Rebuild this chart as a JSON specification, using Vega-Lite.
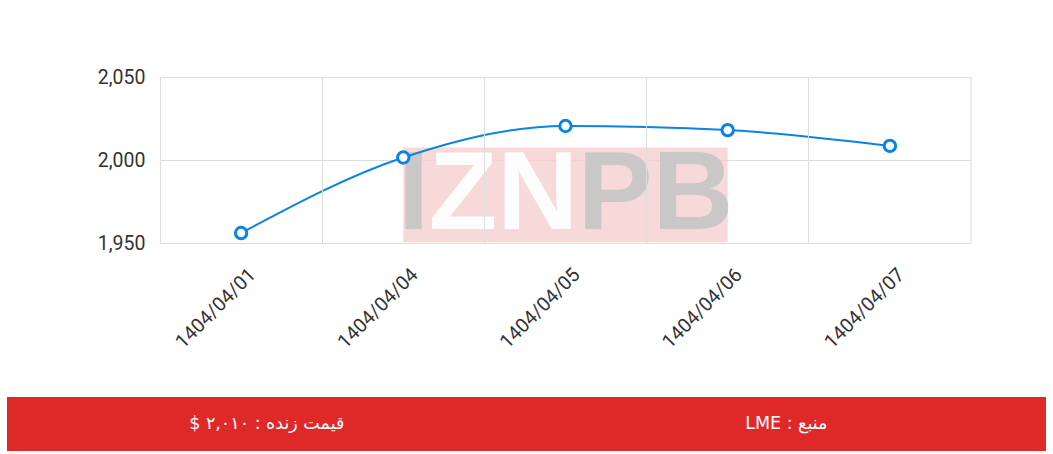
{
  "$schema": "https://vega.github.io/schema/vega-lite/v6.json",
  "background": "#ffffff",
  "padding": {"left": 7, "right": 7, "top": 67, "bottom": 3},
  "spacing": 45,
  "config": {"font": "Roboto"},
  "vconcat": [
    {
      "width": 1039,
      "height": 166,
      "view": {"stroke": null},
      "layer": [
        {
          "data": {"values": [{"date": "1404/04/04", "date2": "1404/04/06", "lo": 1950.5, "hi": 2007.5}]},
          "mark": {"type": "rect", "color": "#f6cfcf", "opacity": 0.8},
          "encoding": {
            "x": {"field": "date", "type": "nominal", "bandPosition": 0.5, "scale": {"type": "band", "paddingInner": 0, "paddingOuter": 0, "range": [153, 964], "domain": ["1404/04/01", "1404/04/04", "1404/04/05", "1404/04/06", "1404/04/07"]}, "axis": {"orient": "bottom", "grid": true, "gridColor": "#dddddd", "bandPosition": 0, "labels": false, "ticks": false, "domain": false, "title": null}},
            "x2": {"field": "date2"},
            "y": {"field": "lo", "type": "quantitative", "scale": {"domain": [1950, 2050], "nice": false, "zero": false}, "axis": {"values": [1950, 2000, 2050], "format": ",.0f", "offset": -153, "labelFontSize": 19.5, "labelColor": "#333333", "labelPadding": 15, "ticks": false, "domain": false, "gridColor": "#dddddd", "title": null}},
            "y2": {"field": "hi"}
          }
        },
        {
          "data": {"values": [{"date": "1404/04/07"}]},
          "mark": {"type": "rule", "color": "#dddddd", "strokeWidth": 1},
          "encoding": {
            "x": {"field": "date", "type": "nominal", "bandPosition": 1, "axis": null},
            "y": {"datum": 1950},
            "y2": {"datum": 2050}
          }
        },
        {
          "data": {"values": [{"date": "1404/04/05", "v": 1979, "a": "I", "b": "ZN", "c": "PB"}]},
          "layer": [
            {
              "mark": {"type": "text", "font": "Liberation Sans", "fontWeight": "bold", "fontSize": 112, "color": "#c6c6c6", "opacity": 0.9, "dx": -152},
              "encoding": {
                "x": {"field": "date", "type": "nominal", "axis": null},
                "y": {"field": "v", "type": "quantitative"},
                "text": {"field": "a"}
              }
            },
            {
              "mark": {"type": "text", "font": "Liberation Sans", "fontWeight": "bold", "fontSize": 112, "color": "#ffffff", "opacity": 0.95, "dx": -62},
              "encoding": {
                "x": {"field": "date", "type": "nominal", "axis": null},
                "y": {"field": "v", "type": "quantitative"},
                "text": {"field": "b"}
              }
            },
            {
              "mark": {"type": "text", "font": "Liberation Sans", "fontWeight": "bold", "fontSize": 112, "color": "#c6c6c6", "opacity": 0.9, "dx": 90},
              "encoding": {
                "x": {"field": "date", "type": "nominal", "axis": null},
                "y": {"field": "v", "type": "quantitative"},
                "text": {"field": "c"}
              }
            }
          ]
        },
        {
          "data": {"values": [
            {"date": "1404/04/01", "price": 1956},
            {"date": "1404/04/04", "price": 2001.5},
            {"date": "1404/04/05", "price": 2020.5},
            {"date": "1404/04/06", "price": 2018},
            {"date": "1404/04/07", "price": 2008.5}
          ]},
          "layer": [
            {
              "mark": {"type": "line", "interpolate": "monotone", "color": "#0a84e2", "strokeWidth": 2},
              "encoding": {
                "x": {"field": "date", "type": "nominal", "axis": {"orient": "bottom", "labelAngle": -45, "labelFontSize": 19.5, "labelColor": "#333333", "labelPadding": 22, "labelOffset": 5, "ticks": false, "domain": false, "grid": false, "title": null}},
                "y": {"field": "price", "type": "quantitative"}
              }
            },
            {
              "mark": {"type": "point", "filled": true, "fill": "#ffffff", "stroke": "#0a84e2", "strokeWidth": 3, "size": 130, "opacity": 1},
              "encoding": {
                "x": {"field": "date", "type": "nominal"},
                "y": {"field": "price", "type": "quantitative"}
              }
            }
          ]
        }
      ],
      "resolve": {"axis": {"x": "independent"}}
    },
    {
      "width": 1039,
      "height": 54,
      "view": {"fill": "#df2929", "stroke": null},
      "data": {"values": [
        {"label": "\u202bقیمت زنده : ۲,۰۱۰ $\u202c"},
        {"label": "\u202bمنبع : LME\u202c"}
      ]},
      "mark": {"type": "text", "color": "#ffffff", "fontSize": 17.5, "font": "DejaVu Sans"},
      "encoding": {
        "x": {"field": "label", "type": "nominal", "sort": null, "axis": null, "scale": {"type": "band", "paddingInner": 0, "paddingOuter": 0}},
        "text": {"field": "label"}
      }
    }
  ]
}
